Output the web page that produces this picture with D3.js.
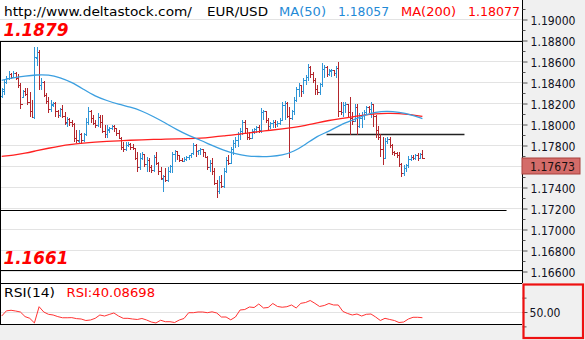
<!DOCTYPE html>
<html><head><meta charset="utf-8">
<script src="https://cdn.jsdelivr.net/npm/d3@7"></script>
<style>html,body{margin:0;padding:0;background:#fff;}svg{display:block;}</style>
</head><body><svg id="c" width="585" height="340"></svg>
<script>
// ---------- DATA ----------
const symbol = "EUR/USD";
const source = "http://www.deltastock.com/";
// OHLC bars [open, high, low, close]
const bars = [
[1.1827,1.1835,1.1825,1.1833],[1.1831,1.1843,1.1828,1.1840],[1.1840,1.1846,1.1839,1.1844],[1.1844,1.1851,1.1842,1.1848],[1.1848,1.1849,1.1843,1.1845],
[1.1845,1.1851,1.1844,1.1849],[1.1849,1.1850,1.1842,1.1844],[1.1844,1.1848,1.1835,1.1837],[1.1837,1.1840,1.1815,1.1819],[1.1826,1.1833,1.1825,1.1831],
[1.1831,1.1835,1.1827,1.1829],[1.1829,1.1835,1.1819,1.1821],[1.1821,1.1831,1.1807,1.1812],[1.1812,1.1823,1.1806,1.1807],[1.1807,1.1874,1.1805,1.1864],
[1.1863,1.1874,1.1856,1.1869],[1.1869,1.1871,1.1833,1.1837],[1.1837,1.1844,1.1833,1.1840],[1.1840,1.1841,1.1826,1.1828],[1.1828,1.1830,1.1820,1.1822],
[1.1822,1.1826,1.1811,1.1814],[1.1814,1.1823,1.1812,1.1819],[1.1818,1.1821,1.1817,1.1820],[1.1820,1.1821,1.1807,1.1812],[1.1812,1.1814,1.1806,1.1809],
[1.1809,1.1816,1.1807,1.1814],[1.1814,1.1819,1.1806,1.1808],[1.1808,1.1812,1.1800,1.1802],[1.1801,1.1807,1.1798,1.1805],[1.1805,1.1806,1.1799,1.1802],
[1.1802,1.1804,1.1798,1.1800],[1.1800,1.1801,1.1783,1.1787],[1.1787,1.1795,1.1782,1.1785],[1.1784,1.1795,1.1781,1.1790],[1.1790,1.1792,1.1781,1.1785],
[1.1785,1.1792,1.1783,1.1790],[1.1790,1.1806,1.1789,1.1802],[1.1802,1.1817,1.1800,1.1812],[1.1812,1.1814,1.1801,1.1806],[1.1806,1.1809,1.1800,1.1801],
[1.1801,1.1804,1.1797,1.1799],[1.1799,1.1811,1.1798,1.1807],[1.1807,1.1809,1.1797,1.1802],[1.1802,1.1809,1.1792,1.1793],[1.1793,1.1800,1.1787,1.1790],
[1.1790,1.1800,1.1787,1.1795],[1.1794,1.1798,1.1792,1.1796],[1.1796,1.1800,1.1795,1.1798],[1.1798,1.1800,1.1793,1.1796],[1.1796,1.1797,1.1789,1.1791],
[1.1791,1.1795,1.1786,1.1787],[1.1787,1.1788,1.1776,1.1778],[1.1778,1.1783,1.1774,1.1776],[1.1776,1.1783,1.1775,1.1780],[1.1780,1.1783,1.1779,1.1781],
[1.1781,1.1782,1.1776,1.1778],[1.1778,1.1781,1.1776,1.1777],[1.1777,1.1778,1.1766,1.1768],[1.1768,1.1774,1.1755,1.1759],[1.1759,1.1773,1.1757,1.1768],
[1.1768,1.1774,1.1766,1.1771],[1.1771,1.1772,1.1760,1.1762],[1.1762,1.1769,1.1755,1.1766],[1.1766,1.1768,1.1755,1.1759],[1.1759,1.1761,1.1754,1.1756],
[1.1756,1.1771,1.1755,1.1769],[1.1769,1.1774,1.1761,1.1763],[1.1763,1.1764,1.1752,1.1755],[1.1755,1.1760,1.1747,1.1749],[1.1748,1.1752,1.1736,1.1750],
[1.1750,1.1759,1.1745,1.1747],[1.1747,1.1760,1.1745,1.1755],[1.1755,1.1761,1.1754,1.1760],[1.1760,1.1774,1.1754,1.1771],[1.1771,1.1776,1.1764,1.1774],
[1.1774,1.1775,1.1766,1.1770],[1.1770,1.1771,1.1764,1.1766],[1.1766,1.1768,1.1764,1.1765],[1.1765,1.1769,1.1764,1.1767],[1.1767,1.1770,1.1765,1.1769],
[1.1769,1.1771,1.1766,1.1770],[1.1770,1.1773,1.1768,1.1772],[1.1772,1.1782,1.1771,1.1780],[1.1780,1.1781,1.1769,1.1774],[1.1774,1.1776,1.1771,1.1775],
[1.1775,1.1778,1.1771,1.1776],[1.1776,1.1777,1.1769,1.1773],[1.1773,1.1774,1.1768,1.1769],[1.1769,1.1770,1.1757,1.1759],[1.1759,1.1766,1.1755,1.1763],
[1.1763,1.1768,1.1752,1.1755],[1.1755,1.1759,1.1742,1.1744],[1.1744,1.1747,1.1730,1.1736],[1.1736,1.1751,1.1734,1.1745],[1.1745,1.1752,1.1740,1.1741],
[1.1741,1.1759,1.1740,1.1755],[1.1755,1.1769,1.1754,1.1766],[1.1766,1.1771,1.1761,1.1763],[1.1763,1.1779,1.1762,1.1776],[1.1776,1.1785,1.1771,1.1782],
[1.1782,1.1788,1.1778,1.1785],[1.1785,1.1793,1.1779,1.1790],[1.1790,1.1797,1.1785,1.1793],[1.1793,1.1804,1.1790,1.1802],[1.1802,1.1804,1.1792,1.1796],
[1.1796,1.1797,1.1785,1.1788],[1.1788,1.1793,1.1785,1.1787],[1.1787,1.1796,1.1786,1.1793],[1.1793,1.1797,1.1791,1.1795],[1.1795,1.1799,1.1792,1.1797],
[1.1797,1.1800,1.1792,1.1794],[1.1794,1.1816,1.1792,1.1811],[1.1811,1.1814,1.1804,1.1812],[1.1812,1.1813,1.1801,1.1804],[1.1804,1.1806,1.1795,1.1798],
[1.1798,1.1802,1.1796,1.1801],[1.1801,1.1804,1.1797,1.1802],[1.1802,1.1804,1.1797,1.1800],[1.1800,1.1803,1.1798,1.1801],[1.1801,1.1806,1.1800,1.1804],
[1.1804,1.1821,1.1803,1.1818],[1.1818,1.1822,1.1804,1.1820],[1.1820,1.1821,1.1806,1.1808],[1.1808,1.1817,1.1768,1.1806],[1.1806,1.1814,1.1804,1.1812],
[1.1812,1.1826,1.1809,1.1823],[1.1823,1.1836,1.1821,1.1833],[1.1833,1.1840,1.1826,1.1837],[1.1837,1.1838,1.1826,1.1831],[1.1831,1.1844,1.1829,1.1842],
[1.1842,1.1847,1.1838,1.1845],[1.1845,1.1858,1.1841,1.1854],[1.1854,1.1856,1.1844,1.1848],[1.1848,1.1850,1.1840,1.1842],[1.1842,1.1844,1.1828,1.1833],
[1.1833,1.1838,1.1828,1.1830],[1.1830,1.1840,1.1828,1.1838],[1.1838,1.1859,1.1836,1.1852],[1.1852,1.1857,1.1844,1.1854],[1.1854,1.1856,1.1845,1.1848],
[1.1848,1.1853,1.1846,1.1851],[1.1850,1.1853,1.1845,1.1851],[1.1851,1.1852,1.1846,1.1849],[1.1849,1.1856,1.1844,1.1853],[1.1853,1.1860,1.1807,1.1812],
[1.1812,1.1821,1.1809,1.1811],[1.1811,1.1821,1.1807,1.1818],[1.1818,1.1821,1.1811,1.1819],[1.1819,1.1820,1.1806,1.1811],[1.1811,1.1826,1.1790,1.1806],
[1.1806,1.1812,1.1800,1.1803],[1.1803,1.1820,1.1802,1.1816],[1.1816,1.1820,1.1790,1.1798],[1.1798,1.1811,1.1797,1.1806],[1.1806,1.1812,1.1797,1.1809],
[1.1809,1.1814,1.1804,1.1811],[1.1811,1.1818,1.1809,1.1816],[1.1816,1.1818,1.1811,1.1814],[1.1814,1.1821,1.1806,1.1819],[1.1819,1.1820,1.1798,1.1808],
[1.1808,1.1809,1.1787,1.1794],[1.1794,1.1799,1.1785,1.1788],[1.1788,1.1791,1.1769,1.1776],[1.1776,1.1788,1.1761,1.1768],[1.1768,1.1787,1.1767,1.1784],
[1.1784,1.1788,1.1781,1.1786],[1.1786,1.1788,1.1778,1.1780],[1.1780,1.1781,1.1771,1.1773],[1.1773,1.1775,1.1770,1.1772],[1.1772,1.1774,1.1768,1.1770],
[1.1770,1.1774,1.1760,1.1762],[1.1762,1.1763,1.1750,1.1753],[1.1753,1.1761,1.1751,1.1758],[1.1758,1.1762,1.1755,1.1761],[1.1761,1.1770,1.1759,1.1767],
[1.1767,1.1771,1.1765,1.1769],[1.1769,1.1771,1.1766,1.1768],[1.1768,1.1772,1.1766,1.1770],[1.1770,1.1773,1.1765,1.1768],[1.1768,1.1773,1.1767,1.1771],
[1.1771,1.1776,1.1767,1.17673]
];
// Moving averages, one value every 5 bars
const maStep = 5;
const ma50 = [1.18421,1.18445,1.18462,1.18473,1.18474,1.18448,1.18402,1.18335,1.18269,1.18228,1.18191,1.18167,1.18129,1.18075,1.18015,1.17950,1.17895,1.17851,1.17800,1.17753,1.17719,1.17700,1.17694,1.17695,1.17705,1.17743,1.17810,1.17891,1.17934,1.17998,1.18040,1.18086,1.18119,1.18129,1.18117,1.18095,1.18057];
const ma200 = [1.17696,1.17708,1.17726,1.17751,1.17774,1.17796,1.17811,1.17824,1.17833,1.17840,1.17845,1.17850,1.17854,1.17858,1.17860,1.17862,1.17865,1.17869,1.17880,1.17892,1.17903,1.17918,1.17932,1.17945,1.17959,1.17973,1.17990,1.18015,1.18039,1.18057,1.18072,1.18091,1.18103,1.18107,1.18106,1.18096,1.18077];
// RSI(14), one value every 2 bars
const rsiStep = 2;
const rsi = [43.0,52,53,51.7,50,42,39,31,59.2,50,
46,44.8,42,40,40,40.2,38.5,37.8,35.2,36.1,
39,44.8,43,45.7,48.3,43,39,39,37.8,37,
38.7,36.1,32.6,30.9,35.7,33.1,33.1,31.7,36.1,38.7,
48.8,48.8,50,50,48.8,50.3,48.3,41.3,41.3,36.4,
41.3,53.5,54.3,58.7,57.8,63.9,57,57.8,64.8,59.6,
58.3,59.2,62.2,57,65.1,66.5,70,65.1,59.6,61.3,
64.8,62.2,62.2,50.9,47.4,44.8,46.5,43,46,46.5,
41.3,35.2,39,37,35.2,31.7,32.6,37.8,40.8,40.8,
40.08698];
// Axis ticks
const priceTicks = [1.190,1.188,1.186,1.184,1.182,1.180,1.178,1.176,1.174,1.172,1.170,1.168,1.166];
const priceMinor = [1.191,1.189,1.187,1.185,1.183,1.181,1.179,1.177,1.175,1.173,1.171,1.169,1.167];
const rsiTicks = [50];
const rsiMinor = [25,75];
// Horizontal levels (price), start/end in bar units (null = panel edge)
const levels = [1.1879, 1.1661, 1.1718, 1.1790];
const levelStart = [null, null, null, 139];
const levelEnd = [null, null, 216, 198];
const labeledLevels = [1.1879, 1.1661];

// ---------- DRAW ----------
const W = 585, H = 340, plotR = 522;
const FONT = "'DejaVu Sans', Verdana, sans-serif";
const BLUE = "#2e95d6", RED = "#b3262c";
const svg = d3.select("#c");
const y = d3.scaleLinear().domain([1.166, 1.19]).range([271.5, 19.5]);
const x = d3.scaleLinear().domain([0, bars.length - 1]).range([1.7, 422.4]);
const ry = d3.scaleLinear().domain([0, 100]).range([340.75, 283.25]);
const crisp = v => Math.floor(v) + 0.5;

svg.append("rect").attr("width", W).attr("height", H).attr("fill", "#fff");
svg.append("rect").attr("x", plotR).attr("width", W - plotR).attr("height", H).attr("fill", "#f0f0f0");
svg.append("rect").attr("y", 324.5).attr("width", plotR).attr("height", H - 324.5).attr("fill", "#f0f0f0");

// gridlines
svg.append("g").selectAll("line").data(priceTicks).join("line")
  .attr("x1", 0).attr("x2", plotR).attr("y1", d => crisp(y(d))).attr("y2", d => crisp(y(d)))
  .attr("stroke", "#e3e3e3").attr("stroke-width", 1);

// level lines
svg.append("g").selectAll("line").data(levels).join("line")
  .attr("x1", (d, i) => levelStart[i] == null ? 0 : x(levelStart[i]))
  .attr("x2", (d, i) => levelEnd[i] == null ? plotR : x(levelEnd[i]))
  .attr("y1", d => crisp(y(d))).attr("y2", d => crisp(y(d)))
  .attr("stroke", (d, i) => levelStart[i] == null ? "#000" : "#222")
  .attr("stroke-width", (d, i) => levelStart[i] == null ? 1 : 1.6);
// left border of the level box
svg.append("line").attr("x1", 0.5).attr("x2", 0.5)
  .attr("y1", crisp(y(d3.max(labeledLevels)))).attr("y2", crisp(y(d3.min(labeledLevels))))
  .attr("stroke", "#000");

// bars
svg.append("g").attr("shape-rendering", "crispEdges").selectAll("path").data(bars).join("path")
  .attr("d", (d, i) => {
    const xi = Math.round(x(i)) + 0.5;
    return `M${xi},${y(d[1])}V${y(d[2])}M${xi - 2},${crisp(y(d[0]))}H${xi}M${xi},${crisp(y(d[3]))}H${xi + 2}`;
  })
  .attr("fill", "none").attr("stroke-width", 1)
  .attr("stroke", d => d[3] >= d[0] ? BLUE : RED);

// moving averages
const maLine = d3.line().x((d, i) => x(i * maStep)).y(d => y(d)).curve(d3.curveBasis);
svg.append("path").datum(ma200).attr("d", maLine).attr("fill", "none").attr("stroke", "#ff2020").attr("stroke-width", 1.3);
svg.append("path").datum(ma50).attr("d", maLine).attr("fill", "none").attr("stroke", "#3b9fe0").attr("stroke-width", 1.3);

// level labels
svg.append("g").selectAll("text").data(labeledLevels).join("text")
  .attr("x", 3.5).attr("y", d => y(d) - 6)
  .attr("font-family", FONT).attr("font-size", 17).attr("font-weight", "bold").attr("font-style", "italic")
  .attr("fill", "#ff0000").attr("textLength", 65).attr("lengthAdjust", "spacingAndGlyphs")
  .text(d => d3.format(".4f")(d));

// header
const fmt5 = d3.format(".5f");
const header = [
  {t: source, x: 4, w: 188, c: "#000"},
  {t: symbol, x: 207, w: 61, c: "#000"},
  {t: "MA(50)", x: 279, w: 47, c: "#1f8ad6"},
  {t: fmt5(ma50[ma50.length - 1]), x: 338, w: 51, c: "#1f8ad6"},
  {t: "MA(200)", x: 401, w: 55, c: "#ff0000"},
  {t: fmt5(ma200[ma200.length - 1]), x: 468, w: 52, c: "#ff0000"}
];
svg.append("g").selectAll("text").data(header).join("text")
  .attr("x", d => d.x).attr("y", 15.7).attr("fill", d => d.c)
  .attr("font-family", FONT).attr("font-size", 12.5)
  .attr("textLength", d => d.w).attr("lengthAdjust", "spacingAndGlyphs")
  .text(d => d.t);

// price axis
svg.append("line").attr("x1", plotR + 0.5).attr("x2", plotR + 0.5).attr("y1", 0).attr("y2", 283)
  .attr("stroke", "#000");
const gAx = svg.append("g").attr("transform", `translate(${plotR + 0.5},0)`)
  .call(d3.axisRight(y).tickValues(priceTicks).tickFormat(fmt5).tickSize(5).tickSizeOuter(0).tickPadding(3));
gAx.select(".domain").remove();
gAx.selectAll("line").attr("stroke", "#555");
gAx.selectAll("text").attr("font-family", FONT).attr("font-size", 12.5).attr("fill", "#111122")
  .attr("dy", "0.37em").attr("textLength", 45).attr("lengthAdjust", "spacingAndGlyphs");
const gMin = svg.append("g").attr("transform", `translate(${plotR + 0.5},0)`)
  .call(d3.axisRight(y).tickValues(priceMinor).tickFormat("").tickSize(3).tickSizeOuter(0));
gMin.select(".domain").remove();
gMin.selectAll("line").attr("stroke", "#555");

// current price box
const last = bars[bars.length - 1][3];
svg.append("rect").attr("x", plotR).attr("y", crisp(y(last)) - 0.5).attr("width", 58).attr("height", 16)
  .attr("fill", "#d46c69").attr("stroke", "#a8403d").attr("stroke-width", 1);
svg.append("text").attr("x", 530).attr("y", crisp(y(last)) + 7.5).attr("dy", "0.37em")
  .attr("font-family", FONT).attr("font-size", 12.5).attr("fill", "#1a1010")
  .attr("textLength", 45).attr("lengthAdjust", "spacingAndGlyphs").text(fmt5(last));

// RSI panel
const rTop = 283.5, rBot = 324.5;
svg.append("line").attr("x1", 0).attr("x2", plotR).attr("y1", crisp(ry(50))).attr("y2", crisp(ry(50))).attr("stroke", "#e3e3e3");
svg.append("defs").append("clipPath").attr("id", "rc").append("rect")
  .attr("x", 0).attr("y", rTop).attr("width", plotR).attr("height", rBot - rTop);
svg.append("path").datum(rsi).attr("clip-path", "url(#rc)")
  .attr("d", d3.line().x((d, i) => x(i * rsiStep)).y(d => ry(d)))
  .attr("fill", "none").attr("stroke", "#ff3333").attr("stroke-width", 1);
svg.append("line").attr("x1", 0).attr("x2", plotR).attr("y1", rTop).attr("y2", rTop).attr("stroke", "#000");
svg.append("line").attr("x1", 0).attr("x2", plotR).attr("y1", rBot).attr("y2", rBot).attr("stroke", "#000");
svg.append("line").attr("x1", 0.5).attr("x2", 0.5).attr("y1", 240).attr("y2", rBot).attr("stroke", "#000");
svg.append("text").attr("x", 4).attr("y", 296.7).attr("font-family", FONT).attr("font-size", 11.5)
  .attr("fill", "#000").attr("textLength", 51).attr("lengthAdjust", "spacingAndGlyphs").text("RSI(14)");
svg.append("text").attr("x", 66.5).attr("y", 296.7).attr("font-family", FONT).attr("font-size", 11.5)
  .attr("fill", "#ff0000").attr("textLength", 88.5).attr("lengthAdjust", "spacingAndGlyphs")
  .text("RSI:" + d3.format(".5f")(rsi[rsi.length - 1]));

// RSI axis
const gR = svg.append("g").attr("transform", `translate(${plotR + 0.5},0)`)
  .call(d3.axisRight(ry).tickValues(rsiTicks).tickFormat(d3.format(".2f")).tickSize(5).tickSizeOuter(0).tickPadding(2));
gR.select(".domain").remove();
gR.selectAll("line").attr("stroke", "#555");
gR.selectAll("text").attr("font-family", FONT).attr("font-size", 12.5).attr("fill", "#111122")
  .attr("dy", "0.37em").attr("textLength", 31).attr("lengthAdjust", "spacingAndGlyphs");
const gRm = svg.append("g").attr("transform", `translate(${plotR + 0.5},0)`)
  .call(d3.axisRight(ry).tickValues(rsiMinor).tickFormat("").tickSize(4).tickSizeOuter(0));
gRm.select(".domain").remove();
gRm.selectAll("line").attr("stroke", "#555");
svg.append("rect").attr("x", plotR + 1.5).attr("y", 284.5).attr("width", 59.5).attr("height", 53.5)
  .attr("fill", "none").attr("stroke", "#ee1111").attr("stroke-width", 2.2);
</script></body></html>
